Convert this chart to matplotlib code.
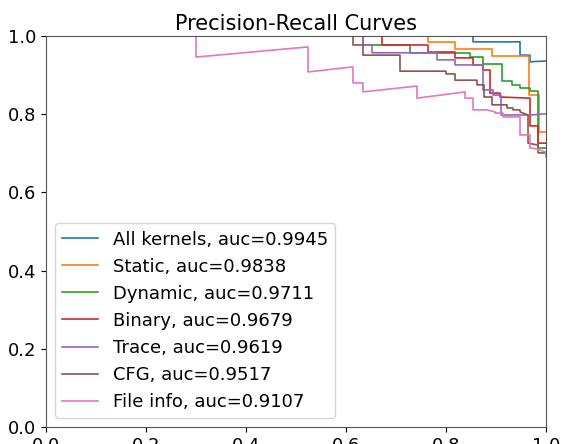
"""
Precision-recall curves for several feature groups.
"""
import matplotlib
matplotlib.use("Agg")
import matplotlib.pyplot as plt

# ======= DATA (recall, precision) =======
labels = ["All kernels", "Static", "Dynamic", "Binary", "Trace", "CFG", "File info"]
aucs = [0.9945, 0.9838, 0.9711, 0.9679, 0.9619, 0.9517, 0.9107]

rec_all = [0, 0.854, 0.854, 0.948, 0.948, 0.968, 0.968, 1.0]
prec_all = [1, 1, 0.985, 0.985, 0.951, 0.951, 0.934, 0.936]

rec_static = [0, 0.764, 0.764, 0.818, 0.818, 0.892, 0.892, 0.966, 0.966, 0.986, 0.986, 1.0]
prec_static = [1, 1, 0.985, 0.985, 0.967, 0.967, 0.949, 0.949, 0.849, 0.849, 0.754, 0.754]

rec_dynamic = [0, 0.634, 0.634, 0.728, 0.728, 0.848, 0.848, 0.874, 0.874, 0.912,
               0.912, 0.932, 0.932, 0.948, 0.948, 0.968, 0.968, 0.984, 0.984, 1.0]
prec_dynamic = [1, 1, 0.977, 0.977, 0.957, 0.957, 0.946, 0.946, 0.928, 0.928,
                0.885, 0.885, 0.875, 0.875, 0.867, 0.867, 0.859, 0.859, 0.714, 0.714]

rec_binary = [0, 0.672, 0.672, 0.764, 0.764, 0.818, 0.818, 0.854, 0.854, 0.874,
              0.874, 0.888, 0.888, 0.908, 0.908, 0.968, 0.968, 0.984, 0.984, 1.0]
prec_binary = [1, 1, 0.977, 0.977, 0.959, 0.959, 0.944, 0.944, 0.926, 0.926,
               0.913, 0.913, 0.854, 0.854, 0.844, 0.841, 0.770, 0.770, 0.726, 0.726]

rec_trace = [0, 0.634, 0.634, 0.652, 0.652, 0.782, 0.782, 0.818, 0.818, 0.874,
             0.874, 0.894, 0.894, 0.910, 0.910, 0.968, 1.0]
prec_trace = [1, 1, 0.977, 0.977, 0.957, 0.957, 0.939, 0.939, 0.926, 0.926,
              0.862, 0.862, 0.849, 0.849, 0.798, 0.798, 0.801]

rec_cfg = [0, 0.614, 0.614, 0.634, 0.634, 0.708, 0.708, 0.800, 0.800, 0.818, 0.818,
           0.862, 0.862, 0.876, 0.876, 0.892, 0.892, 0.922, 0.922, 0.934, 0.934,
           0.948, 0.948, 0.964, 0.964, 0.984, 0.984, 1.0]
prec_cfg = [1, 1, 0.977, 0.977, 0.951, 0.951, 0.910, 0.910, 0.903, 0.903, 0.887,
            0.887, 0.875, 0.875, 0.844, 0.844, 0.824, 0.824, 0.816, 0.816, 0.811,
            0.811, 0.806, 0.798, 0.726, 0.721, 0.701, 0.701]

rec_file = [0, 0.30, 0.30, 0.524, 0.524, 0.614, 0.614, 0.634, 0.634, 0.742, 0.742,
            0.838, 0.838, 0.854, 0.854, 0.882, 0.898, 0.898, 0.914, 0.914, 0.948,
            0.948, 0.968, 0.968, 0.982, 1.0, 1.0]
prec_file = [1, 1, 0.946, 0.972, 0.908, 0.921, 0.880, 0.880, 0.857, 0.872, 0.841,
             0.857, 0.841, 0.841, 0.811, 0.811, 0.806, 0.803, 0.803, 0.793, 0.793,
             0.747, 0.747, 0.714, 0.711, 0.703, 0.691]

recalls = [rec_all, rec_static, rec_dynamic, rec_binary, rec_trace, rec_cfg, rec_file]
precisions = [prec_all, prec_static, prec_dynamic, prec_binary, prec_trace, prec_cfg, prec_file]

# ======= FIGURA =======
fig = plt.figure(figsize=(5.67, 4.44), dpi=100)
ax = fig.add_axes([0.081, 0.038, 0.882, 0.881])

for r, p, name, auc in zip(recalls, precisions, labels, aucs):
    ax.plot(r, p, lw=1.2, label=f"{name}, auc={auc:.4f}")

ax.set_xlim(0, 1)
ax.set_ylim(0, 1)
ax.set_title("Precision-Recall Curves", fontsize=15, pad=4)
ax.tick_params(labelsize=13)
for s in ax.spines.values():
    s.set_color("#555555")
ax.legend(loc="lower left", fontsize=13)

fig.savefig("out.png", dpi=100)
